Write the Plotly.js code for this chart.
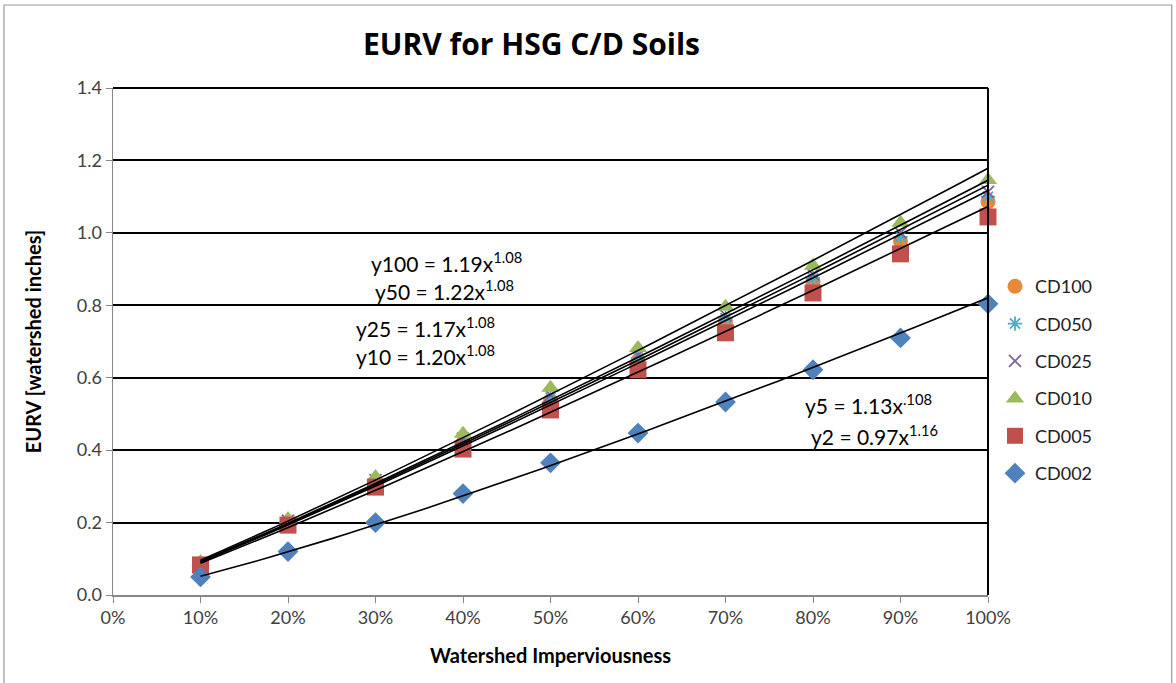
<!DOCTYPE html>
<html><head><meta charset="utf-8">
<script src="https://cdn.plot.ly/plotly-3.0.1.min.js"></script>
<style>html,body{margin:0;padding:0;background:#fff}#chart{width:1176px;height:683px}</style>
</head><body><div id="chart"></div>
<script>
const imperv = [0.1,0.2,0.3,0.4,0.5,0.6,0.7,0.8,0.9,1.0];
const CD100 = [0.086,0.200,0.309,0.420,0.536,0.647,0.754,0.865,0.977,1.086];
const CD050 = [0.087,0.202,0.313,0.426,0.545,0.655,0.764,0.875,0.989,1.100];
const CD025 = [0.088,0.205,0.317,0.432,0.552,0.663,0.773,0.885,1.000,1.113];
const CD010 = [0.091,0.210,0.326,0.445,0.572,0.682,0.796,0.909,1.028,1.146];
const CD005 = [0.083,0.193,0.298,0.403,0.511,0.622,0.724,0.834,0.942,1.044];
const CD002 = [0.050,0.120,0.200,0.280,0.365,0.447,0.533,0.622,0.710,0.804];
const seriesNames = ['CD100','CD050','CD025','CD010','CD005','CD002'];
const eqLabels = ['y100 = 1.19x<sup>1.08</sup>','y50 = 1.22x<sup>1.08</sup>','y25 = 1.17x<sup>1.08</sup>','y10 = 1.20x<sup>1.08</sup>','y5 = 1.13x<sup>.108</sup>','y2 = 0.97x<sup>1.16</sup>'];
const xTickVals = [0,0.1,0.2,0.3,0.4,0.5,0.6,0.7,0.8,0.9,1.0];
const xTickText = ['0%','10%','20%','30%','40%','50%','60%','70%','80%','90%','100%'];

const seriesData = [CD100,CD050,CD025,CD010,CD005,CD002];
const styles = [
  {symbol:'circle', color:'#E8883A', size:15},
  {symbol:'asterisk-open', color:'#4BACC6', size:12, line:{width:1.8,color:'#4BACC6'}},
  {symbol:'x-thin-open', color:'#8064A2', size:12, line:{width:1.8,color:'#8064A2'}},
  {symbol:'triangle-up', color:'#9BBB59', size:16},
  {symbol:'square', color:'#C0504D', size:17},
  {symbol:'diamond', color:'#4F81BD', size:16}
];

const traces = [];
seriesData.forEach((ys,i)=>{
  const st = styles[i];
  const m = {symbol:st.symbol, color:st.color, size:st.size};
  if (st.line) m.line = st.line;
  traces.push({type:'scatter', mode:'markers', name:seriesNames[i], legendgroup:'g'+i, x:imperv, y:ys, marker:m, cliponaxis:false});
});
// power-law trendlines fitted to each series
seriesData.forEach((ys)=>{
  const n = imperv.length;
  let sx=0, sy=0, sxx=0, sxy=0;
  for (let k=0;k<n;k++){const lx=Math.log(imperv[k]), ly=Math.log(ys[k]); sx+=lx; sy+=ly; sxx+=lx*lx; sxy+=lx*ly;}
  const b = (n*sxy - sx*sy)/(n*sxx - sx*sx);
  const a = Math.exp((sy - b*sx)/n);
  const tx=[], ty=[];
  for (let k=0;k<=60;k++){const x=0.1+0.9*k/60; tx.push(x); ty.push(a*Math.pow(x,b));}
  traces.push({type:'scatter', mode:'lines', x:tx, y:ty, showlegend:false, hoverinfo:'skip', line:{color:'#000', width:1.6}, cliponaxis:false});
});

const eqPos = [[0.381,0.920],[0.379,0.843],[0.357,0.740],[0.357,0.663],[0.863,0.528],[0.870,0.442]];
const annotations = eqLabels.map((t,i)=>({text:t, x:eqPos[i][0], y:eqPos[i][1], xref:'x', yref:'y', showarrow:false, font:{family:'Lato, "Open Sans", sans-serif', size:21, color:'#000'}}));

const layout = {
  width:1176, height:683,
  margin:{l:113, r:188, t:88, b:88},
  paper_bgcolor:'#fff', plot_bgcolor:'#fff',
  font:{family:'Lato, "Open Sans", sans-serif', color:'#404040'},
  title:{text:'<b>EURV for HSG C/D Soils</b>', x:0.452, xanchor:'center', y:0.935, yanchor:'middle', font:{family:'"Open Sans", Lato, sans-serif', size:30, color:'#000'}},
  xaxis:{range:[0,1.0], tickvals:xTickVals, ticktext:xTickText, showgrid:false, zeroline:false, showline:true, linecolor:'#888', linewidth:1.5, ticks:'outside', ticklen:6, tickcolor:'#888', tickfont:{size:18, color:'#404040'},
    title:{text:'<b>Watershed Imperviousness</b>', font:{size:20, color:'#000'}, standoff:22}},
  yaxis:{range:[0,1.4], dtick:0.2, tickformat:'.1f', showgrid:true, gridcolor:'#000', gridwidth:2, zeroline:false, showline:true, linecolor:'#888', linewidth:1.5, ticks:'outside', ticklen:6, tickcolor:'#888', tickfont:{size:18, color:'#404040'},
    title:{text:'<b>EURV [watershed inches]</b>', font:{size:20, color:'#000'}, standoff:30}},
  legend:{x:1.008, xanchor:'left', y:0.645, yanchor:'top', traceorder:'grouped', tracegroupgap:11, itemwidth:30, font:{size:18, color:'#222'}, bgcolor:'rgba(0,0,0,0)'},
  showlegend:true,
  annotations:annotations,
  shapes:[
    {type:'line', xref:'paper', yref:'paper', x0:1, x1:1, y0:0, y1:1, line:{color:'#000', width:2}},
    {type:'line', xref:'paper', yref:'paper', x0:0, x1:1, y0:1, y1:1, line:{color:'#000', width:2}},
    {type:'rect', xref:'paper', yref:'paper', x0:-0.1246, x1:1.21, y0:-0.2, y1:1.1637, line:{color:'#999', width:1.2}, layer:'below'}
  ]
};
Plotly.newPlot('chart', traces, layout, {displayModeBar:false, staticPlot:true});
</script></body></html>
